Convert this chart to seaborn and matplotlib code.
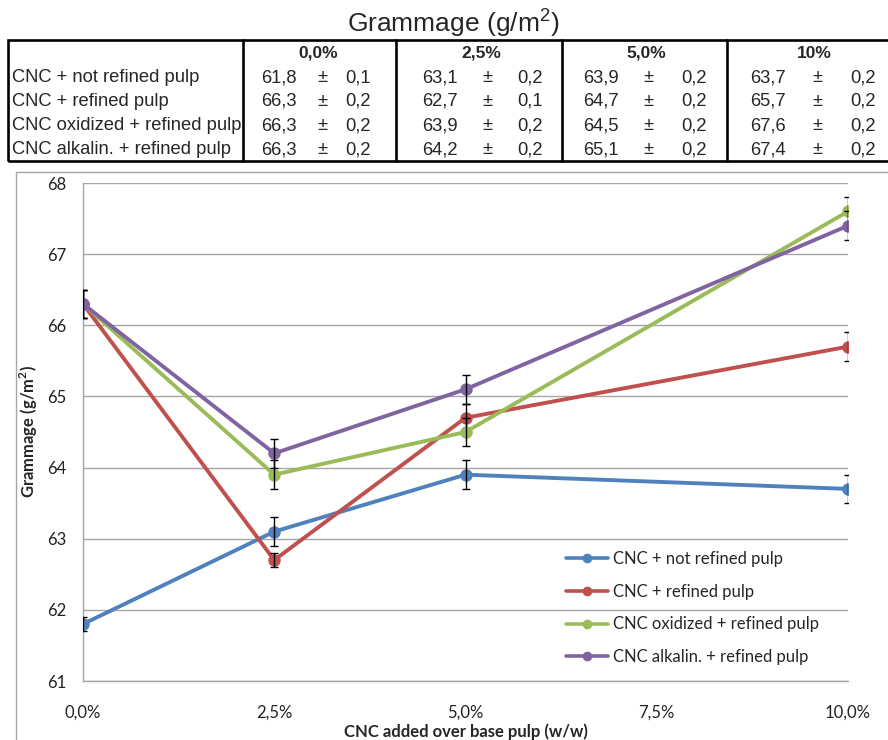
import numpy as np
import pandas as pd
import matplotlib
matplotlib.use("Agg")
import matplotlib.pyplot as plt
import seaborn as sns
from matplotlib.patches import Rectangle
from matplotlib.lines import Line2D

# ---------------- data ----------------
series = ["CNC + not refined pulp", "CNC + refined pulp",
          "CNC oxidized + refined pulp", "CNC alkalin. + refined pulp"]
cnc_pct = [0.0, 2.5, 5.0, 10.0]
col_headers = ["0,0%", "2,5%", "5,0%", "10%"]
mean_not_refined = [61.8, 63.1, 63.9, 63.7]
sd_not_refined = [0.1, 0.2, 0.2, 0.2]
mean_refined = [66.3, 62.7, 64.7, 65.7]
sd_refined = [0.2, 0.1, 0.2, 0.2]
mean_oxidized = [66.3, 63.9, 64.5, 67.6]
sd_oxidized = [0.2, 0.2, 0.2, 0.2]
mean_alkalin = [66.3, 64.2, 65.1, 67.4]
sd_alkalin = [0.2, 0.2, 0.2, 0.2]
xtick_vals = [0.0, 2.5, 5.0, 7.5, 10.0]
xtick_labels = ["0,0%", "2,5%", "5,0%", "7,5%", "10,0%"]
ytick_vals = [61, 62, 63, 64, 65, 66, 67, 68]
colors = ["#4F81BD", "#C0504D", "#9BBB59", "#8064A2"]

means = [mean_not_refined, mean_refined, mean_oxidized, mean_alkalin]
sds = [sd_not_refined, sd_refined, sd_oxidized, sd_alkalin]

rows = []
for s, m, e in zip(series, means, sds):
    for x, mv, ev in zip(cnc_pct, m, e):
        rows.append({"series": s, "pct": x, "mean": mv, "sd": ev})
df = pd.DataFrame(rows)

# ---------------- style ----------------
sns.set_style("white")
plt.rcParams["font.family"] = ["Lato", "DejaVu Sans"]
plt.rcParams["mathtext.fontset"] = "custom"
plt.rcParams["mathtext.rm"] = "Liberation Sans"

W, H = 888, 740
fig = plt.figure(figsize=(W / 100, H / 100), dpi=100)

def fx(x):
    return x / W

def fy(y):
    return 1 - y / H

# ---------------- title + table ----------------
fig.text(fx(453), fy(23), r"Grammage (g/m$^{\mathregular{2}}$)", ha="center", va="center",
         fontsize=19, family=["Liberation Sans", "DejaVu Sans"])

tbl_font = ["Liberation Sans", "DejaVu Sans"]
tcol = "black"
lw_t = 1.9
fig.add_artist(Rectangle((fx(8), fy(161)), fx(895 - 8), (161 - 40) / H,
                         transform=fig.transFigure, fill=False, edgecolor=tcol,
                         lw=lw_t, clip_on=False))
for xs in [243, 396, 562, 727]:
    fig.add_artist(Line2D([fx(xs), fx(xs)], [fy(40), fy(161)],
                          transform=fig.transFigure, color=tcol, lw=lw_t))

header_x = [318, 481, 646, 814]
mean_x = [279, 440, 601, 768]
pm_x = [322, 487, 648, 817]
sd_x = [358, 530, 694, 863]
row_y = [78, 101, 126, 150]

for hx, h in zip(header_x, col_headers):
    fig.text(fx(hx), fy(53), h, ha="center", va="center", fontsize=12.5,
             fontweight="bold", family=tbl_font)

for r, (s, m, e) in enumerate(zip(series, means, sds)):
    fig.text(fx(12), fy(row_y[r]), s, ha="left", va="center", fontsize=13.2, family=tbl_font)
    for c in range(4):
        fig.text(fx(mean_x[c]), fy(row_y[r]), f"{m[c]:.1f}".replace(".", ","),
                 ha="center", va="center", fontsize=13.2, family=tbl_font)
        fig.text(fx(pm_x[c]), fy(row_y[r]), "\u00b1", ha="center", va="center",
                 fontsize=13.2, family=tbl_font)
        fig.text(fx(sd_x[c]), fy(row_y[r]), f"{e[c]:.1f}".replace(".", ","),
                 ha="center", va="center", fontsize=13.2, family=tbl_font)

# chart outer border
fig.add_artist(Rectangle((fx(16), fy(745)), fx(900 - 16), (745 - 172) / H,
                         transform=fig.transFigure, fill=False, edgecolor="#A6A6A6",
                         lw=1.0, clip_on=False))

# ---------------- chart ----------------
ax = fig.add_axes([fx(83), fy(681), fx(848 - 83), (681 - 183) / H])

sns.lineplot(data=df, x="pct", y="mean", hue="series", hue_order=series,
             palette=colors, marker="o", markersize=9, markeredgewidth=0,
             linewidth=2.8, errorbar=None, legend=False, ax=ax)

for i, (m, e) in enumerate(zip(means, sds)):
    ax.errorbar(cnc_pct, m, yerr=e, fmt="none", ecolor="black", elinewidth=1.0,
                capsize=3, capthick=1.0, zorder=3 + i)
for i, ln in enumerate(ax.get_lines()[:4]):
    ln.set_zorder(2.5 + i)

ax.set_xlim(0, 10)
ax.set_ylim(61, 68)
ax.set_xticks(xtick_vals)
ax.set_xticklabels(xtick_labels)
ax.set_yticks(ytick_vals)
ax.set_yticklabels([str(v) for v in ytick_vals])
ax.grid(axis="y", color="#A6A6A6", lw=1.0)
ax.grid(axis="x", visible=False)
ax.set_axisbelow(True)
for sp in ["top", "right"]:
    ax.spines[sp].set_visible(False)
for sp in ["left", "bottom"]:
    ax.spines[sp].set_color("#A6A6A6")
    ax.spines[sp].set_linewidth(1.0)
ax.tick_params(axis="both", which="both", direction="out", color="#A6A6A6",
               length=4, width=1.0, labelsize=12, labelcolor="#222222")
ax.tick_params(axis="x", pad=13)
ax.tick_params(axis="y", pad=8)

plt.rcParams["mathtext.rm"] = "Lato"
plt.rcParams["mathtext.bf"] = "Lato:bold"
ax.set_xlabel("CNC added over base pulp (w/w)", fontsize=12, fontweight="bold",
              labelpad=2)
ax.set_ylabel(r"Grammage (g/m$^{\mathregular{2}}$)", fontsize=12, fontweight="bold",
              labelpad=5)

handles = [Line2D([], [], color=c, lw=2.6, marker="o", markersize=7,
                  markeredgewidth=0) for c in colors]
ax.legend(handles, series, loc="center left", bbox_to_anchor=(fx(566), fy(608)),
          bbox_transform=fig.transFigure, frameon=False, fontsize=12,
          handlelength=2.5, handletextpad=0.3, labelspacing=1.0,
          borderpad=0, borderaxespad=0)

fig.savefig("out.png", dpi=100)
